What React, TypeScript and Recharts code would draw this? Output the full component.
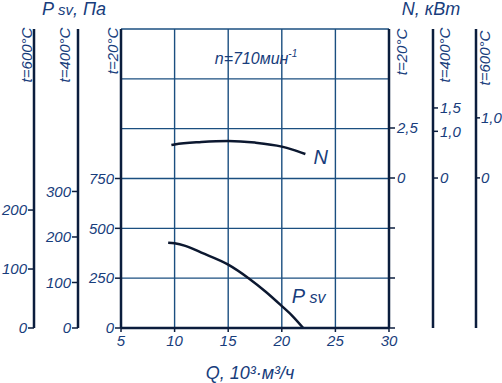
import React from 'react';
import { ComposedChart, Line, XAxis, YAxis, CartesianGrid } from 'recharts';

// ---- data ----
const qTicks = [5, 10, 15, 20, 25, 30];
const pGridTicks = [0, 250, 500, 750, 1000, 1250, 1500];
const p20Ticks = [0, 250, 500, 750];
const p400Ticks = [0, 100, 200, 300];
const p600Ticks = [0, 100, 200];
const n20Ticks = [-7.5, -5, -2.5, 0, 2.5];
const n400Ticks = [0, 1.0, 1.5];
const n600Ticks = [0, 1.0];

const pQ = [9.4, 10, 11, 12.5, 15, 16.9, 18.5, 20, 21, 22];
const pValues = [428, 425, 412, 378, 318, 250, 182, 110, 60, 0];

const nQ = [9.7, 10, 12.5, 15, 17.5, 20, 21, 22.2];
const nValues = [1.65, 1.68, 1.8, 1.85, 1.77, 1.57, 1.42, 1.2];

const pData = pQ.map((q, i) => ({ q, p: pValues[i] }));
const nData = nQ.map((q, i) => ({ q, n: nValues[i] }));

// ---- styles ----
const FONT = 'Liberation Sans, Arial, sans-serif';
const NARROW = 'Liberation Sans Narrow, Liberation Sans, Arial, sans-serif';
const TEXT = '#183d7c';
const AXIS = '#0b1d3d';
const GRID = '#1b4f80';
const CURVE = '#0c1830';

const tickStyle = { fill: TEXT, fontSize: 15, fontStyle: 'italic', fontFamily: FONT };
const axisLine = { stroke: AXIS, strokeWidth: 2.5 };
const tickLine = { stroke: AXIS, strokeWidth: 1.5 };
const comma = (v: number) => (v < 0 ? '' : v === 0 ? '0' : v.toFixed(1).replace('.', ','));

const rotLabel = (text: string, side: 'left' | 'right', dx: number, dy: number) => (props: any) => {
  const vb = props.viewBox || { x: 0, y: 0, width: 0, height: 0 };
  const cx = side === 'left' ? vb.x + vb.width - dx : vb.x + dx;
  const cy = vb.y + dy;
  return (
    <text
      x={cx}
      y={cy}
      transform={`rotate(-90 ${cx} ${cy})`}
      textAnchor="middle"
      dominantBaseline="central"
      fill={TEXT}
      fontSize={15}
      fontStyle="italic"
      fontFamily={FONT}
    >
      {text}
    </text>
  );
};

const qLabel = (props: any) => {
  const vb = props.viewBox || { x: 0, y: 0, width: 0, height: 0 };
  return (
    <text
      x={vb.x + vb.width / 2 - 5}
      y={vb.y + 51}
      textAnchor="middle"
      fill={TEXT}
      fontSize={18}
      fontStyle="italic"
      fontFamily={FONT}
    >
      Q, 10³·м³/ч
    </text>
  );
};

const nCurveLabel = (props: any) => {
  if (props.index !== nData.length - 1) return null;
  return (
    <text x={props.x + 8} y={props.y + 10} fill={TEXT} fontSize={20} fontStyle="italic" fontFamily={FONT}>
      N
    </text>
  );
};

const pCurveLabel = (props: any) => {
  if (props.index !== 7) return null;
  return (
    <text x={props.x + 10} y={props.y - 3} fill={TEXT} fontSize={20} fontStyle="italic" fontFamily={FONT}>
      P<tspan fontSize={16}> sv</tspan>
    </text>
  );
};

export default function App() {
  return (
    <div style={{ position: 'absolute', left: 0, top: 0, width: 502, height: 383, background: '#fff' }}>
      <ComposedChart width={502} height={383} margin={{ top: 29, right: 0, bottom: 25, left: 0 }}>
        <CartesianGrid yAxisId="grid" stroke={GRID} strokeWidth={1.4} strokeOpacity={1} />
        <XAxis
          dataKey="q"
          type="number"
          domain={[5, 30]}
          ticks={qTicks}
          allowDataOverflow
          height={30}
          tick={tickStyle}
          tickSize={4}
          tickMargin={3}
          axisLine={axisLine}
          tickLine={tickLine}
          label={{ content: qLabel }}
        />
        <YAxis
          yAxisId="p20"
          orientation="left"
          width={43}
          type="number"
          domain={[0, 1500]}
          ticks={p20Ticks}
          allowDataOverflow
          tick={tickStyle}
          tickSize={6}
          tickMargin={1}
          axisLine={axisLine}
          tickLine={tickLine}
          label={{ content: rotLabel('t=20°C', 'left', 9, 22) }}
        />
        <YAxis
          yAxisId="p400"
          orientation="left"
          width={44}
          type="number"
          domain={[0, 657]}
          ticks={p400Ticks}
          allowDataOverflow
          tick={tickStyle}
          tickSize={6}
          tickMargin={1}
          axisLine={axisLine}
          tickLine={tickLine}
          label={{ content: rotLabel('t=400°C', 'left', 14, 26) }}
        />
        <YAxis
          yAxisId="p600"
          orientation="left"
          width={34}
          type="number"
          domain={[0, 507]}
          ticks={p600Ticks}
          allowDataOverflow
          tick={tickStyle}
          tickSize={6}
          tickMargin={1}
          axisLine={axisLine}
          tickLine={tickLine}
          label={{ content: rotLabel('t=600°C', 'left', 8, 26) }}
        />
        <YAxis
          yAxisId="n20"
          orientation="right"
          width={44}
          type="number"
          domain={[-7.5, 7.45]}
          ticks={n20Ticks}
          allowDataOverflow
          tick={tickStyle}
          tickSize={6}
          tickMargin={2}
          tickFormatter={comma}
          axisLine={axisLine}
          tickLine={tickLine}
          label={{ content: rotLabel('t=20°C', 'right', 12, 23) }}
        />
        <YAxis
          yAxisId="n400"
          orientation="right"
          width={43}
          type="number"
          domain={[-3.21, 3.19]}
          ticks={n400Ticks}
          allowDataOverflow
          tick={tickStyle}
          tickSize={5}
          tickMargin={2}
          tickFormatter={comma}
          axisLine={axisLine}
          tickLine={tickLine}
          label={{ content: rotLabel('t=400°C', 'right', 11, 26) }}
        />
        <YAxis
          yAxisId="n600"
          orientation="right"
          width={26}
          type="number"
          domain={[-2.5, 2.48]}
          ticks={n600Ticks}
          allowDataOverflow
          tick={tickStyle}
          tickSize={4}
          tickMargin={1}
          tickFormatter={comma}
          axisLine={axisLine}
          tickLine={tickLine}
          label={{ content: rotLabel('t=600°C', 'right', 8, 29) }}
        />
        <YAxis
          yAxisId="grid"
          hide
          width={0}
          orientation="right"
          type="number"
          domain={[0, 1500]}
          ticks={pGridTicks}
          allowDataOverflow
        />
        <Line
          data={pData}
          dataKey="p"
          yAxisId="p20"
          type="monotone"
          stroke={CURVE}
          strokeWidth={2.5}
          dot={false}
          isAnimationActive={false}
          label={pCurveLabel}
        />
        <Line
          data={nData}
          dataKey="n"
          yAxisId="n20"
          type="monotone"
          stroke={CURVE}
          strokeWidth={2.5}
          dot={false}
          isAnimationActive={false}
          label={nCurveLabel}
        />
        <text x={74} y={15} textAnchor="middle" fill={TEXT} fontSize={18} fontStyle="italic" fontFamily={FONT}>
          P<tspan fontSize={15}> sv</tspan>, Па
        </text>
        <text x={431} y={15} textAnchor="middle" fill={TEXT} fontSize={18} fontStyle="italic" fontFamily={NARROW}>
          N, кВт
        </text>
        <text x={256} y={64} textAnchor="middle" fill={TEXT} fontSize={16} fontStyle="italic" fontFamily={FONT}>
          n=710мин<tspan fontSize={10} dy={-7}>-1</tspan>
        </text>
      </ComposedChart>
    </div>
  );
}
